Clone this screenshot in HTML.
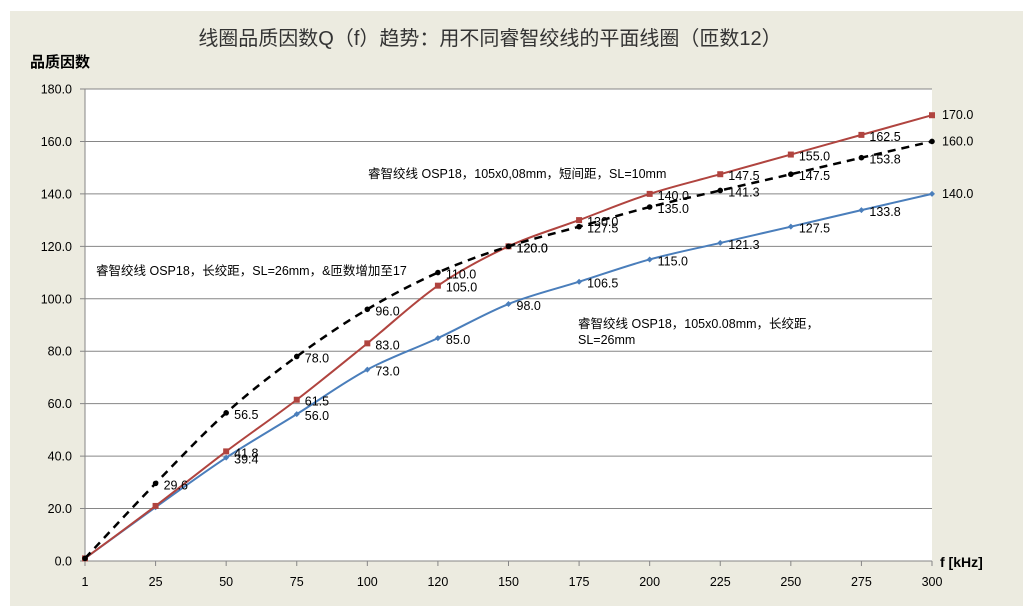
<!DOCTYPE html>
<html><head><meta charset="utf-8">
<style>
html,body{margin:0;padding:0;background:#fff;}
svg{display:block;font-family:"Liberation Sans","Noto Sans CJK SC",sans-serif;}
</style></head>
<body>
<svg id="chart" width="1035" height="615" viewBox="0 0 1035 615" xmlns="http://www.w3.org/2000/svg">
<rect x="10" y="11" width="1013" height="595" fill="#ecebe0"/>
<rect x="85" y="89" width="847" height="472" fill="#fff"/>
<g id="grid"></g>
<g id="axes"></g>
<g id="series"></g>
<g id="labels"></g>
<text x="490" y="45" font-size="20" fill="#333" text-anchor="middle">线圈品质因数Q（f）趋势：用不同睿智绞线的平面线圈（匝数12）</text>
<text x="30" y="67" font-size="15" font-weight="bold" fill="#000">品质因数</text>
<text x="940" y="567" font-size="14" font-weight="bold" fill="#000">f [kHz]</text>
<text x="368" y="178" font-size="12.5" fill="#000">睿智绞线 OSP18，105x0,08mm，短间距，SL=10mm</text>
<text x="96" y="275" font-size="12.5" fill="#000">睿智绞线 OSP18，长绞距，SL=26mm，&amp;匝数增加至17</text>
<text x="578" y="328" font-size="12.5" fill="#000">睿智绞线 OSP18，105x0.08mm，长绞距，</text>
<text x="578" y="344" font-size="12.5" fill="#000">SL=26mm</text>
</svg>
<script>
const categories = ["1","25","50","75","100","120","150","175","200","225","250","275","300"];
const yTicks = [0,20,40,60,80,100,120,140,160,180];
const redValues = [1,21,41.8,61.5,83,105,120,130,140,147.5,155,162.5,170];
const blackValues = [1,29.6,56.5,78,96,110,120,127.5,135,141.3,147.5,153.8,160];
const blueValues = [1,20.5,39.4,56,73,85,98,106.5,115,121.3,127.5,133.8,140];

const NS="http://www.w3.org/2000/svg";
const X0=85,X1=932,Y0=561,Y1=89,YMAX=180;
function xPos(i){return X0+(X1-X0)*i/(categories.length-1);}
function yPos(v){return Y0-(Y0-Y1)*v/YMAX;}
function mk(tag,attrs,parent){const e=document.createElementNS(NS,tag);for(const k in attrs)e.setAttribute(k,attrs[k]);parent.appendChild(e);return e;}
const grid=document.getElementById('grid'),axes=document.getElementById('axes'),series=document.getElementById('series'),labels=document.getElementById('labels');

yTicks.forEach(v=>{
  const y=yPos(v);
  const l=mk('line',{x1:X0-5,x2:X1,y1:y,y2:y,stroke:'#868686','stroke-width':1},grid);
  
  
  const t=mk('text',{x:X0-13,y:y+4.5,'font-size':12.5,'text-anchor':'end',fill:'#000'},axes);
  t.textContent=v.toFixed(1);
  
  
});
const ya=mk('line',{x1:X0,x2:X0,y1:Y1,y2:Y0+5,stroke:'#868686','stroke-width':1},axes);


categories.forEach((c,i)=>{
  const x=xPos(i);
  const tk=mk('line',{x1:x,x2:x,y1:Y0,y2:Y0+5,stroke:'#868686'},axes);
  
  
  const t=mk('text',{x:x,y:Y0+25,'font-size':12.5,'text-anchor':'middle',fill:'#000'},axes);
  t.textContent=c;
  
  
});

function smoothPath(vals){
  const p=vals.map((v,i)=>[xPos(i),yPos(v)]);
  let d='M'+p[0][0]+','+p[0][1];
  for(let i=0;i<p.length-1;i++){
    const p0=p[i-1]||p[i],p1=p[i],p2=p[i+1],p3=p[i+2]||p2;
    const t=1/6;
    d+=' C'+(p1[0]+(p2[0]-p0[0])*t)+','+(p1[1]+(p2[1]-p0[1])*t)+' '+(p2[0]-(p3[0]-p1[0])*t)+','+(p2[1]-(p3[1]-p1[1])*t)+' '+p2[0]+','+p2[1];
  }
  return d;
}
function drawSeries(vals,color,dash,marker,name,skip){
  const path=mk('path',{d:smoothPath(vals),fill:'none',stroke:color,'stroke-width':dash?2.5:2,'stroke-dasharray':dash?'8,6':'none'},series);
  
  
  vals.forEach((v,i)=>{
    const x=xPos(i),y=yPos(v);
    let m;
    if(marker==='square') m=mk('rect',{x:x-3,y:y-3,width:6,height:6,fill:color},series);
    else if(marker==='circle') m=mk('circle',{cx:x,cy:y,r:2.8,fill:color},series);
    else m=mk('path',{d:`M${x-3},${y} L${x},${y-3} L${x+3},${y} L${x},${y+3}Z`,fill:color},series);
    
    
    if(i===0 || skip.includes(i)) return;
    const t=mk('text',{x:i===vals.length-1?x+10:x+8,y:y+(i===vals.length-1?4:6),'font-size':12.5,fill:'#000'},labels);
    t.textContent=v.toFixed(1);
    
    
  });
}
drawSeries(blueValues,'#4a7ebb',false,'diamond','blue-series',[1]);
drawSeries(redValues,'#b0443f',false,'square','red-series',[1]);
drawSeries(blackValues,'#000',true,'circle','black-series',[]);
</script>
</body></html>
